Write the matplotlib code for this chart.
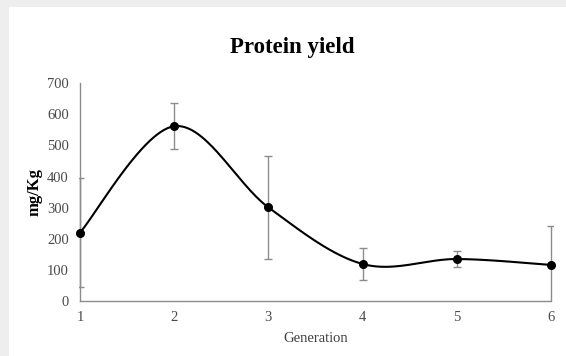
import numpy as np
import matplotlib
matplotlib.use("Agg")
import matplotlib.pyplot as plt
from matplotlib.patches import Rectangle
from matplotlib.transforms import Bbox, TransformedBbox

# Protein yield per generation (mg/Kg) with standard deviations
generations = [1, 2, 3, 4, 5, 6]
yield_mg_kg = [220, 562, 301, 119, 135, 116]
yield_sd = [175, 74, 166, 52, 25, 125]
y_ticks = [0, 100, 200, 300, 400, 500, 600, 700]


def smooth_curve(x, y, n=60):
    """Catmull-Rom style smoothed line through the points (spreadsheet-like)."""
    x = np.asarray(x, float)
    y = np.asarray(y, float)
    px = np.concatenate([[x[0]], x, [x[-1]]])
    py = np.concatenate([[y[0]], y, [y[-1]]])
    xs, ys = [], []
    for i in range(1, len(px) - 2):
        p0 = np.array([px[i - 1], py[i - 1]])
        p1 = np.array([px[i], py[i]])
        p2 = np.array([px[i + 1], py[i + 1]])
        p3 = np.array([px[i + 2], py[i + 2]])
        c1 = p1 + (p2 - p0) / 6.0
        c2 = p2 - (p3 - p1) / 6.0
        t = np.linspace(0, 1, n)[:, None]
        b = ((1 - t) ** 3) * p1 + 3 * ((1 - t) ** 2) * t * c1 \
            + 3 * (1 - t) * t ** 2 * c2 + t ** 3 * p2
        xs.append(b[:, 0])
        ys.append(b[:, 1])
    return np.concatenate(xs), np.concatenate(ys)


plt.rcParams['font.family'] = ['Liberation Serif', 'DejaVu Serif']

fig = plt.figure(figsize=(5.66, 3.56), dpi=100, facecolor='#eeeeee')
# white chart panel
fig.add_artist(Rectangle((9 / 566, 0), 1, 1 - 7 / 356, transform=fig.transFigure,
                         facecolor='white', edgecolor='none', zorder=-10))

ax = fig.add_axes([80 / 566, 55 / 356, 471 / 566, 217.7 / 356])
ax.set_facecolor('none')
ax.set_zorder(5)

eb = ax.errorbar(generations, yield_mg_kg, yerr=yield_sd, fmt='none', ecolor='#8c8c8c',
                 elinewidth=1.0, capsize=3, capthick=1.0, zorder=2)
# clip error bars to the plot area, leaving room for the bar on the right edge
clip = TransformedBbox(Bbox([[-0.003, 0.0], [1.004, 1.2]]), ax.transAxes)
for art in list(eb.lines[1]) + list(eb.lines[2]):
    art.set_clip_box(clip)

sx, sy = smooth_curve(generations, yield_mg_kg)
ax.plot(sx, sy, color='black', lw=1.5, zorder=3, clip_on=False)
ax.plot(generations, yield_mg_kg, 'o', color='black', ms=5.5, zorder=4, clip_on=False)

ax.set_xlim(1, 6)
ax.set_ylim(0, 700)
ax.set_xticks(generations)
ax.set_yticks(y_ticks)
ax.tick_params(axis='both', length=0, labelsize=10.5, colors='#4a4a4a')
ax.tick_params(axis='y', pad=8)
ax.tick_params(axis='x', pad=7)

for s in ['top', 'right']:
    ax.spines[s].set_visible(False)
for s in ['left', 'bottom']:
    ax.spines[s].set_color('#8c8c8c')
    ax.spines[s].set_linewidth(1.0)
    ax.spines[s].set_zorder(1)

ax.set_xlabel('Generation', fontsize=10.5, color='#404040', labelpad=6)
ax.set_ylabel('mg/Kg', fontsize=12, fontweight='bold', color='black', labelpad=3)
fig.text(292 / 566, 1 - 47 / 356, 'Protein yield', ha='center', va='center',
         fontsize=16.5, fontweight='bold', zorder=6)

fig.savefig('out.png', dpi=100, facecolor=fig.get_facecolor())
